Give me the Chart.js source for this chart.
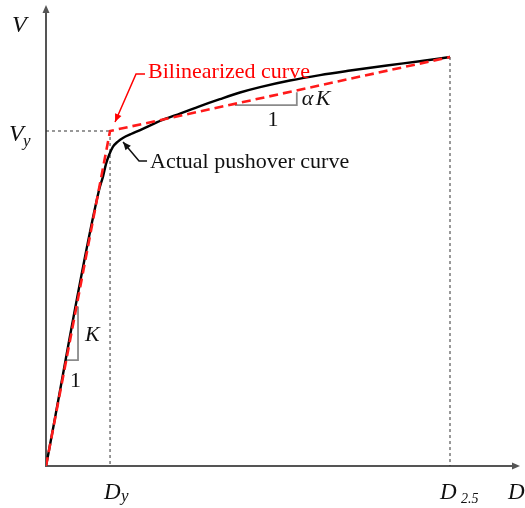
<!DOCTYPE html>
<html>
<head>
<meta charset="utf-8">
<script src="https://cdn.jsdelivr.net/npm/chart.js@4/dist/chart.umd.min.js"></script>
<style>
html,body{margin:0;padding:0;background:#fff;}
#wrap{width:525px;height:508px;}
</style>
</head>
<body>
<div id="wrap"><canvas id="c" width="525" height="508"></canvas></div>
<script>
// ---- data (D in mm, V in kN; arbitrary units) ----
const actualD = [0, 16.9, 18.2, 19.1, 20.1, 21.3, 22.9, 24.5, 27.1, 30.0, 34.1, 37.9, 42.7, 49.1, 55.4, 61.8, 68.2, 77.7, 87.3, 96.9, 108.6, 119.1, 128.7];
const actualV = [0, 918, 964, 1004, 1034, 1061, 1079, 1091, 1104, 1117, 1137, 1154, 1172, 1197, 1220, 1242, 1260, 1282, 1300, 1315, 1332, 1346, 1360];
const bilinD = [0, 20.4, 128.7];
const bilinV = [0, 1114, 1360];
const Dy = 20.4, Vy = 1114, D25 = 128.7, V25 = 1360;
const kTriD = [6.5, 10.2, 10.2];
const kTriV = [352, 352, 530];
const akTriD = [60.2, 79.9, 79.9];
const akTriV = [1200, 1200, 1243];
const xTickLabels = ['D', 'y', 'D', '2.5'];

const pts = (xs, ys) => xs.map((x, i) => ({x: x, y: ys[i]}));

const SERIF = '"Liberation Serif", "Times New Roman", serif';

const drawPlugin = {
  id: 'deco',
  beforeDatasetsDraw(chart) {
    const ctx = chart.ctx, xs = chart.scales.x, ys = chart.scales.y, ca = chart.chartArea;
    const x0 = xs.getPixelForValue(0), y0 = ys.getPixelForValue(0);
    ctx.save();
    ctx.strokeStyle = '#555'; ctx.fillStyle = '#555'; ctx.lineWidth = 2;
    ctx.beginPath(); ctx.moveTo(x0, y0 + 1); ctx.lineTo(x0, ca.top + 6); ctx.stroke();
    ctx.beginPath(); ctx.moveTo(x0, ca.top); ctx.lineTo(x0 - 3.5, ca.top + 8); ctx.lineTo(x0 + 3.5, ca.top + 8); ctx.closePath(); ctx.fill();
    ctx.beginPath(); ctx.moveTo(x0 - 1, y0); ctx.lineTo(ca.right - 6, y0); ctx.stroke();
    ctx.beginPath(); ctx.moveTo(ca.right, y0); ctx.lineTo(ca.right - 8, y0 - 3.5); ctx.lineTo(ca.right - 8, y0 + 3.5); ctx.closePath(); ctx.fill();
    ctx.restore();
  },
  afterDraw(chart) {
    const ctx = chart.ctx, xs = chart.scales.x, ys = chart.scales.y, ca = chart.chartArea;
    const px = v => xs.getPixelForValue(v), py = v => ys.getPixelForValue(v);
    const x0 = px(0), y0 = py(0);
    const xy = px(Dy), yy = py(Vy);
    ctx.save();
    ctx.fillStyle = '#111';
    ctx.textBaseline = 'alphabetic';
    // axis titles
    ctx.font = 'italic 24px ' + SERIF;
    ctx.textAlign = 'left';
    ctx.fillText('V', x0 - 34, ca.top + 27);
    ctx.fillText('V', x0 - 37, yy + 10);
    ctx.font = 'italic 17px ' + SERIF;
    ctx.fillText('y', x0 - 23, yy + 15);
    // x tick labels
    ctx.font = 'italic 23px ' + SERIF;
    ctx.fillText(xTickLabels[0], xy - 6, y0 + 33);
    ctx.fillText(xTickLabels[2], px(D25) - 10, y0 + 33);
    ctx.fillText('D', ca.right - 12, y0 + 33);
    ctx.font = 'italic 17px ' + SERIF;
    ctx.fillText(xTickLabels[1], xy + 11, y0 + 35);
    ctx.font = 'italic 14px ' + SERIF;
    ctx.fillText(xTickLabels[3], px(D25) + 11, y0 + 37);
    // slope labels
    ctx.font = 'italic 22px ' + SERIF;
    ctx.fillText('K', px(kTriD[1]) + 7, py(415));
    ctx.fillText('\u03B1', px(akTriD[1]) + 5, py(akTriV[0]));
    ctx.fillText('K', px(akTriD[1]) + 19, py(akTriV[0]));
    ctx.font = '22px ' + SERIF;
    ctx.textAlign = 'center';
    ctx.fillText('1', px(kTriD[0]) + 9, py(kTriV[0]) + 27);
    ctx.fillText('1', (px(akTriD[0]) + px(akTriD[1])) / 2 + 7, py(akTriV[0]) + 21);
    ctx.textAlign = 'left';
    // annotation: bilinearized
    ctx.fillStyle = '#ff0000'; ctx.strokeStyle = '#ff0000'; ctx.lineWidth = 1.5;
    ctx.font = '22px ' + SERIF;
    ctx.fillText('Bilinearized curve', xy + 38, yy - 53);
    let tip = [xy + 5, yy - 9];
    let a = [xy + 26, yy - 57];
    ctx.beginPath(); ctx.moveTo(xy + 35, yy - 57); ctx.lineTo(a[0], a[1]); ctx.lineTo(tip[0], tip[1]); ctx.stroke();
    arrowHead(ctx, a, tip, 8, 3.5);
    // annotation: actual
    ctx.fillStyle = '#111'; ctx.strokeStyle = '#111';
    ctx.fillText('Actual pushover curve', xy + 40, yy + 37);
    tip = [xy + 13, yy + 11];
    a = [xy + 29, yy + 30];
    ctx.beginPath(); ctx.moveTo(xy + 37, yy + 30); ctx.lineTo(a[0], a[1]); ctx.lineTo(tip[0], tip[1]); ctx.stroke();
    arrowHead(ctx, a, tip, 8, 3.5);
    ctx.restore();
  }
};
function arrowHead(ctx, from, tip, len, half) {
  const dx = tip[0] - from[0], dy = tip[1] - from[1];
  const L = Math.hypot(dx, dy), ux = dx / L, uy = dy / L;
  const bx = tip[0] - ux * len, by = tip[1] - uy * len;
  ctx.beginPath();
  ctx.moveTo(tip[0], tip[1]);
  ctx.lineTo(bx - uy * half, by + ux * half);
  ctx.lineTo(bx + uy * half, by - ux * half);
  ctx.closePath(); ctx.fill();
}

const guide = (data) => ({data: data, borderColor: '#333', borderWidth: 1, borderDash: [3, 3], pointRadius: 0, showLine: true, fill: false, order: 5, tension: 0});
const tri = (data) => ({data: data, borderColor: '#8a8a8a', borderWidth: 1.8, pointRadius: 0, showLine: true, fill: false, order: 4, tension: 0});

new Chart(document.getElementById('c'), {
  type: 'scatter',
  data: {
    datasets: [
      {label: 'Bilinearized curve', data: pts(bilinD, bilinV), borderColor: '#ff1a1a', borderWidth: 2.6, borderDash: [9, 5], pointRadius: 0, showLine: true, fill: false, order: 0, tension: 0},
      {label: 'Actual pushover curve', data: pts(actualD, actualV), borderColor: '#000', borderWidth: 2.4, pointRadius: 0, showLine: true, fill: false, order: 1, cubicInterpolationMode: 'monotone'},
      guide([{x: 0, y: Vy}, {x: Dy, y: Vy}]),
      guide([{x: Dy, y: Vy}, {x: Dy, y: 0}]),
      guide([{x: D25, y: V25}, {x: D25, y: 0}]),
      tri(pts(kTriD, kTriV)),
      tri(pts(akTriD, akTriV))
    ]
  },
  options: {
    responsive: false,
    animation: false,
    devicePixelRatio: 1,
    layout: {padding: {left: 46, right: 5, top: 5, bottom: 42}},
    plugins: {legend: {display: false}, tooltip: {enabled: false}},
    scales: {
      x: {type: 'linear', min: 0, max: 151, display: false},
      y: {type: 'linear', min: 0, max: 1533, display: false}
    }
  },
  plugins: [drawPlugin]
});
</script>
</body>
</html>
